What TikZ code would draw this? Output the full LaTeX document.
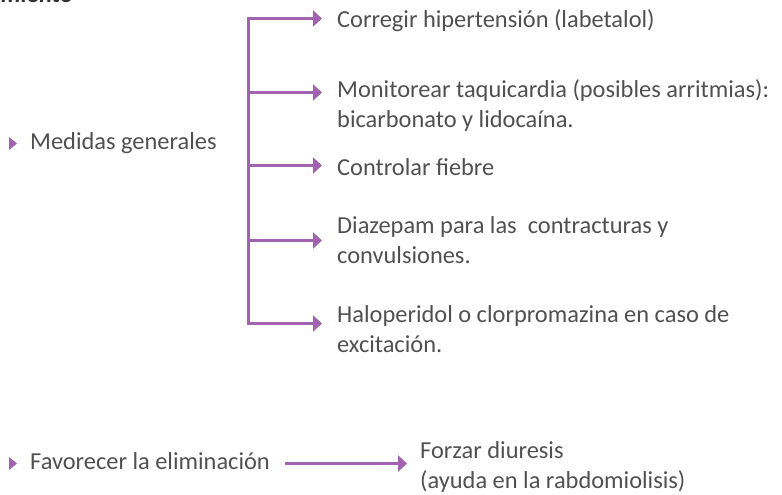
\documentclass[tikz,border=0pt]{standalone}
\usepackage{fontspec}
\setmainfont{Carlito}
\usepackage{tikz}
\usetikzlibrary{arrows.meta,calc}
\definecolor{morado}{RGB}{161,98,176}
\definecolor{texto}{RGB}{80,80,80}
\def\vineta(#1){\fill[morado] ($(#1)+(-4,-6.5)$) -- ++(8,6.5) -- ++(-8,6.5) -- cycle;}

\begin{document}
\begin{tikzpicture}[x=1pt, y=-1pt,
	linea/.style={morado, line width=3pt, line cap=rect},
	flecha/.style={linea, shorten >=15pt, -{Triangle[length=9pt,width=16pt]}},
	item/.style={anchor=base west, inner sep=0pt, align=left, text=texto, font=\fontsize{24.4}{29.5}\selectfont}]
			%%%%% START %%%%%
			\useasboundingbox (0,0) rectangle (782,495);
			
			\node[item, anchor=base east, font=\fontsize{24.4}{29.5}\selectfont\bfseries, text=black!80] (titulo) at (73,3) {Tratamiento};
			
			\node[item] (medidas) at (30,149) {Medidas generales};
			\vineta(13,143.5)
			
			% two-line nodes sit on the baseline of their last line
			\node[item] (corregir) at (337,28) {Corregir hipertensión (labetalol)};
			\node[item] (monitorear) at (337,127) {Monitorear taquicardia (posibles arritmias):\\bicarbonato y lidocaína.};
			\node[item] (controlar) at (337,175) {Controlar fiebre};
			\node[item] (diazepam) at (337,263) {Diazepam para las~ contracturas y\\convulsiones.};
			\node[item] (haloperidol) at (337,352) {Haloperidol o clorpromazina en caso de\\excitación.};
			
			\coordinate (b1) at (248,18.5);
			\coordinate (b2) at (248,92.5);
			\coordinate (b3) at (248,165.5);
			\coordinate (b4) at (248,240.5);
			\coordinate (b5) at (248,323.5);
			
			\draw[linea] (b1) -- (b5);
			\draw[flecha] (b1) -- (b1 -| corregir.west);
			\draw[flecha] (b2) -- (b2 -| monitorear.west);
			\draw[flecha] (b3) -- (b3 -| controlar.west);
			\draw[flecha] (b4) -- (b4 -| diazepam.west);
			\draw[flecha] (b5) -- (b5 -| haloperidol.west);
			
			\node[item] (favorecer) at (30,469) {Favorecer la eliminación};
			\vineta(13,463.5)
			\node[item] (forzar) at (420,488) {Forzar diuresis\\(ayuda en la rabdomiolisis)};
			
			\coordinate (f1) at ($(favorecer.base east)+(16,-5.5)$);
			\draw[flecha, shorten >=13pt] (f1) -- (f1 -| forzar.west);
			
			%%%%% END %%%%%
\end{tikzpicture}
\end{document}
